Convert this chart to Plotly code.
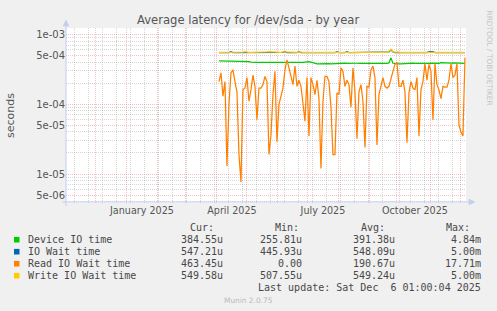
import plotly.graph_objects as go
import pandas as pd

# ---------------- data ----------------
start_date = "2025-04-03"   # first sample, one sample every 2 days
n_points = 124
dates = pd.date_range(start_date, periods=n_points, freq="2D")

device_io = [4.15,4.15,4.1,4.1,4.05,4.05,4.1,4.1,4.1,4.05,4.05,4.1,4.15,4.15,
             4.1,4.05,4.0,3.95,3.95,3.95,3.95,3.95,3.9,3.95,3.95,3.95,3.95,3.95,3.95,
             3.95,3.97,3.97,3.95,3.95,3.97,3.97,3.95,3.95,3.95,3.97,3.97,3.95,3.95,4.0,4.05,
             4.05,4.0,3.9,
             3.8,3.78,3.78,3.8,3.8,3.78,3.8,3.8,3.78,3.8,3.8,3.8,3.82,3.82,3.82,
             3.85,3.83,3.85,3.85,3.88,3.83,3.85,3.85,3.85,3.85,3.83,3.8,3.85,3.85,3.88,3.85,3.85,3.8,3.85,3.85,3.85,3.85,3.9,
             4.6,
             3.85,3.8,3.8,3.78,3.78,3.8,3.8,
             3.82,3.85,3.9,3.85,3.82,3.85,3.85,3.9,3.85,3.85,3.82,3.85,3.88,3.85,3.9,3.88,3.85,3.92,3.9,3.88,3.9,3.92,3.88,3.9,3.9,3.92,3.9,3.88,3.85,3.8455]

io_wait = [5.47,5.47,5.47,5.47,5.47,5.47,5.64,5.47,5.47,5.47,
           5.47,5.47,5.47,5.5,5.47,5.47,5.47,5.47,5.47,5.5,
           5.47,5.47,5.47,5.47,5.47,5.5,5.5,5.47,5.47,5.47,
           5.47,5.47,5.5,5.64,5.47,5.47,5.47,5.47,5.47,5.47,
           5.63,5.47,5.47,5.47,5.47,5.47,5.47,5.47,5.47,5.5,
           5.47,5.47,5.47,5.47,5.47,5.47,5.47,5.47,5.47,5.64,
           5.47,5.47,5.47,5.47,5.63,5.47,5.47,5.47,5.47,5.47,
           5.47,5.47,5.47,5.47,5.47,5.47,5.47,5.5,5.47,5.47,
           5.47,5.47,5.47,5.47,5.47,5.6,6.0,5.6,5.47,5.47,
           5.47,5.47,5.47,5.47,5.47,5.47,5.47,5.47,5.47,5.47,
           5.47,5.5,5.47,5.47,5.47,5.64,5.65,5.64,5.47,5.47,
           5.47,5.5,5.47,5.47,5.47,5.47,5.47,5.47,5.47,5.47,
           5.47,5.5,5.47,5.4721]

read_io_wait = [2.1,2.8,1.3,2.1,0.13,0.99,2.8,3.1,2.1,1.5,
                0.19,0.077,1.6,1.7,2.4,1.1,1.6,2.6,1.8,0.6,
                1.7,1.7,1.9,2.5,2.1,0.19,0.36,1.37,2.95,0.29,
                0.99,1.37,1.7,3.1,4.3,3.3,2.4,1.9,3.5,1.8,
                2.2,1.8,1.03,0.57,2.4,0.35,2.4,1.9,1.37,2.2,
                1.2,0.12,1.1,2.5,2.5,2.1,0.9,0.19,0.19,1.45,
                1.37,3.3,2.95,1.8,2.2,1.9,0.9,3.3,1.5,0.32,
                1.5,1.9,1.1,0.24,1.8,1.75,3.1,3.5,2.4,0.26,
                1.37,1.8,2.4,1.8,1.7,1.8,2.4,2.95,3.7,4.0,
                1.8,1.8,2.2,1.5,0.28,1.45,2.1,1.7,1.6,2.4,
                0.35,1.6,2.1,3.8,2.2,3.7,2.95,0.6,3.8,1.9,
                1.6,1.2,1.8,1.75,1.75,2.2,3.8,2.4,2.6,3.8,
                0.5,0.4,0.35,4.6345]

write_io_wait = [5.49,5.49,5.5,5.49,5.49,5.49,5.62,5.5,5.49,5.49,
                 5.49,5.5,5.55,5.65,5.5,5.49,5.49,5.49,5.5,5.62,
                 5.5,5.49,5.49,5.5,5.6,5.65,5.62,5.58,5.5,5.49,
                 5.49,5.5,5.62,5.6,5.5,5.49,5.49,5.49,5.5,5.52,
                 5.6,5.5,5.49,5.49,5.49,5.5,5.49,5.49,5.52,5.62,
                 5.5,5.49,5.49,5.49,5.49,5.5,5.49,5.49,5.52,5.62,
                 5.5,5.49,5.49,5.5,5.6,5.5,5.49,5.58,5.5,5.49,
                 5.49,5.49,5.5,5.49,5.49,5.5,5.55,5.62,5.5,5.49,
                 5.49,5.49,5.5,5.49,5.52,5.7,6.1,5.65,5.5,5.58,
                 5.5,5.49,5.49,5.49,5.6,5.5,5.49,5.49,5.49,5.5,
                 5.52,5.6,5.5,5.49,5.5,5.6,5.62,5.58,5.5,5.49,
                 5.5,5.58,5.5,5.49,5.49,5.49,5.5,5.49,5.49,5.5,
                 5.55,5.6,5.5,5.4958]

UNIT = 1e-4  # values above are in units of 1e-4 seconds

series_names = ["Device IO time", "IO Wait time", "Read IO Wait time", "Write IO Wait time"]
series_colors = ["#00CC00", "#0066B3", "#FF8000", "#FFCC00"]
series_values = [device_io, io_wait, read_io_wait, write_io_wait]

stat_headers = ["Cur:", "Min:", "Avg:", "Max:"]
stat_cur = ["384.55u", "547.21u", "463.45u", "549.58u"]
stat_min = ["255.81u", "445.93u", "0.00", "507.55u"]
stat_avg = ["391.38u", "548.09u", "190.67u", "549.24u"]
stat_max = ["4.84m", "5.00m", "17.71m", "5.00m"]

x_range = ["2024-11-01 01:00", "2025-12-06 01:00"]
x_label_vals = ["2025-01-16", "2025-04-16", "2025-07-16", "2025-10-16"]
x_label_text = ["January 2025", "April 2025", "July 2025", "October 2025"]

y_tick_vals = [5e-6, 1e-5, 5e-5, 1e-4, 5e-4, 1e-3]
y_tick_text = ["5e-06", "1e-05", "5e-05", "1e-04", "5e-04", "1e-03"]
y_minor_vals = [m * 10.0 ** e for e in (-6, -5, -4, -3) for m in (2, 3, 4, 6, 7, 8, 9)]

title_text = "Average latency for /dev/sda - by year"
y_title = "seconds"
last_update = "Last update: Sat Dec  6 01:00:04 2025"
munin_version = "Munin 2.0.75"
side_text = "RRDTOOL / TOBI OETIKER"

# ---------------- layout geometry (pixels) ----------------
W, H = 497, 311
L, R, T, B = 66, 31, 28, 108
PW, PH = W - L - R, H - T - B


def px(x):
    return (x - L) / PW


def py(y):
    return (H - B - y) / PH


SANS = "DejaVu Sans"
MONO = "DejaVu Sans Mono"
TXT = "#484848"

fig = go.Figure()
for name, color, vals in zip(series_names, series_colors, series_values):
    fig.add_trace(go.Scatter(
        x=dates, y=[v * UNIT for v in vals], mode="lines", name=name,
        line=dict(color=color, width=1.25), hoverinfo="skip", showlegend=False))

# invisible trace carrying the label axis
fig.add_trace(go.Scatter(x=[dates[0]], y=[write_io_wait[0] * UNIT], xaxis="x2",
                         mode="markers", marker=dict(opacity=0), hoverinfo="skip",
                         showlegend=False))

MAJ = "rgba(230,60,60,0.32)"
MIN = "rgba(128,128,128,0.32)"

fig.update_layout(
    width=W, height=H, autosize=False,
    margin=dict(l=L, r=R, t=T, b=B, pad=0),
    paper_bgcolor="#F0F0F0", plot_bgcolor="#FFFFFF",
    font=dict(family=SANS, color=TXT),
    xaxis=dict(type="date", range=x_range, showticklabels=False, ticks="",
               showgrid=True, gridcolor=MAJ, griddash="1px,1px", gridwidth=1,
               dtick="M1", tick0="2024-12-01", zeroline=False, showline=False,
               minor=dict(dtick=14 * 86400000, tick0="2025-01-05", showgrid=True,
                          gridcolor=MIN, griddash="1px,1px", ticks="")),
    xaxis2=dict(type="date", range=x_range, overlaying="x", anchor="y", side="bottom",
                showgrid=False, zeroline=False, showline=False, ticks="",
                tickmode="array", tickvals=x_label_vals, ticktext=x_label_text,
                tickfont=dict(family=SANS, size=9.6, color="#555555")),
    yaxis=dict(type="log", range=[-5.415, -2.91], tickmode="array",
               tickvals=y_tick_vals, ticktext=y_tick_text, ticks="",
               tickfont=dict(family=SANS, size=10, color="#555555"),
               showgrid=True, gridcolor=MAJ, griddash="1px,1px", gridwidth=1,
               zeroline=False, showline=False,
               minor=dict(tickvals=y_minor_vals, showgrid=True, gridcolor=MIN,
                          griddash="1px,1px", ticks="")),
)

AX = "#C4CCF0"
shapes = [
    # y axis line and arrow
    dict(type="line", xref="paper", yref="paper", x0=px(66), x1=px(66),
         y0=py(206), y1=py(25), line=dict(color=AX, width=1)),
    dict(type="path", xref="paper", yref="paper",
         path=f"M {px(63)} {py(26)} L {px(66)} {py(20)} L {px(69)} {py(26)} Z",
         fillcolor=AX, line=dict(color=AX, width=0.5)),
    # x axis line and arrow
    dict(type="line", xref="paper", yref="paper", x0=px(62), x1=px(470),
         y0=py(202), y1=py(202), line=dict(color=AX, width=1)),
    dict(type="path", xref="paper", yref="paper",
         path=f"M {px(469)} {py(199)} L {px(475)} {py(202)} L {px(469)} {py(205)} Z",
         fillcolor=AX, line=dict(color=AX, width=0.5)),
]

ann = []
ann.append(dict(text=title_text, x=px(248), y=py(19.5), xref="paper", yref="paper",
                showarrow=False, xanchor="center", yanchor="middle",
                font=dict(family=SANS, size=11.6, color="#555555")))
ann.append(dict(text=y_title, x=px(10), y=py(115), xref="paper", yref="paper",
                showarrow=False, textangle=-90, xanchor="center", yanchor="middle",
                font=dict(family=SANS, size=11, color="#555555")))
ann.append(dict(text=side_text, x=px(488.5), y=py(58), xref="paper", yref="paper",
                showarrow=False, textangle=90, xanchor="center", yanchor="middle",
                font=dict(family=SANS, size=7.4, color="#C4C4C4")))

header_x = [201.7, 287, 373, 458]
for hx, h in zip(header_x, stat_headers):
    ann.append(dict(text=h, x=px(hx), y=py(227.7), xref="paper", yref="paper",
                    showarrow=False, xanchor="center", yanchor="middle",
                    font=dict(family=MONO, size=10, color=TXT)))

row_y = [239.7, 251.7, 263.7, 275.7]
col_right = [225, 304, 397.3, 483.3]
for i, (name, color) in enumerate(zip(series_names, series_colors)):
    yy = row_y[i]
    shapes.append(dict(type="rect", xref="paper", yref="paper",
                       x0=px(14), x1=px(19.5), y0=py(yy - 2.8), y1=py(yy + 2.8),
                       fillcolor=color, line=dict(width=0)))
    ann.append(dict(text=name, x=px(26), y=py(yy), xref="paper", yref="paper",
                    showarrow=False, xanchor="left", yanchor="middle",
                    font=dict(family=MONO, size=10, color=TXT)))
    for cx, col in zip(col_right, (stat_cur, stat_min, stat_avg, stat_max)):
        ann.append(dict(text=col[i], x=px(cx), y=py(yy), xref="paper", yref="paper",
                        showarrow=False, xanchor="right", yanchor="middle",
                        font=dict(family=MONO, size=10, color=TXT)))

ann.append(dict(text=last_update.replace("  ", "&nbsp; "), x=px(483.3), y=py(287.3),
                xref="paper", yref="paper", showarrow=False, xanchor="right",
                yanchor="middle", font=dict(family=MONO, size=10, color=TXT)))
ann.append(dict(text=munin_version, x=px(248), y=py(300.3), xref="paper", yref="paper",
                showarrow=False, xanchor="center", yanchor="middle",
                font=dict(family=SANS, size=7.4, color="#BBBBBB")))

fig.update_layout(shapes=shapes, annotations=ann)
fig.write_html("out.html")
